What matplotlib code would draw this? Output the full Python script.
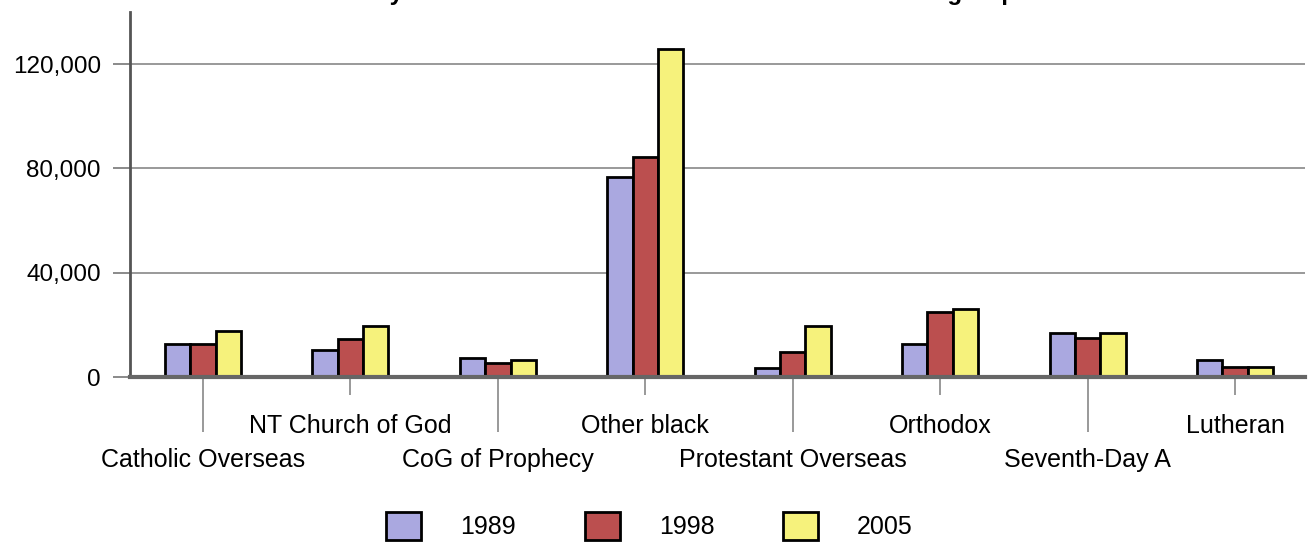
import matplotlib
matplotlib.use("Agg")
import matplotlib.pyplot as plt
from matplotlib.patches import Patch
from matplotlib.ticker import FuncFormatter
import numpy as np

# data
groups = ["Catholic Overseas", "NT Church of God", "CoG of Prophecy", "Other black",
          "Protestant Overseas", "Orthodox", "Seventh-Day A", "Lutheran"]
years = ["1989", "1998", "2005"]
v1989 = [12700, 10400, 7400, 76800, 3300, 12500, 16800, 6500]
v1998 = [12500, 14600, 5500, 84500, 9500, 25000, 14800, 4000]
v2005 = [17600, 19700, 6500, 125700, 19600, 26000, 16800, 4000]
yticks = [0, 40000, 80000, 120000]

colors = ["#aaa8e0", "#bb4f4f", "#f6f27c"]
fs = 18

plt.rcParams['font.family'] = ['Liberation Sans', 'DejaVu Sans']

fig = plt.figure(figsize=(13.11, 5.46), dpi=100)
ax = fig.add_axes([130 / 1311, 1 - 377 / 546, 1175 / 1311, 365 / 546])

x = np.arange(len(groups))
w = 0.172
for k, vals in enumerate([v1989, v1998, v2005]):
    ax.bar(x + (k - 1) * w, vals, width=w, color=colors[k], edgecolor="black",
           linewidth=2, zorder=3)

ax.set_xlim(-0.495, 7.475)
ax.set_ylim(0, 140000)

# gridlines
ax.set_yticks(yticks)
ax.yaxis.set_major_formatter(FuncFormatter(lambda v, p: f"{int(v):,}"))
ax.grid(axis="y", color="#999999", linewidth=1.4, zorder=0)
ax.tick_params(axis="y", length=12, width=1.2, color="#777777", pad=9, labelsize=17.5)

# category labels in two rows: even ones low (long tick), odd ones high (short tick)
ax.set_xticks(x[::2], [groups[i] for i in x[::2]])
ax.set_xticks(x[1::2], [groups[i] for i in x[1::2]], minor=True)
ax.tick_params(axis="x", which="major", length=39.6, width=1.2, color="#888888",
               pad=11.5, labelsize=fs)
ax.tick_params(axis="x", which="minor", length=13, width=1.2, color="#888888",
               pad=13.5, labelsize=fs)

for s in ["top", "right"]:
    ax.spines[s].set_visible(False)
ax.spines["left"].set_color("#555555")
ax.spines["left"].set_linewidth(2)
ax.spines["bottom"].set_color("#666666")
ax.spines["bottom"].set_linewidth(3)
ax.spines["bottom"].set_zorder(4)

# title, cut off at the top like the reference
fig.text(0.51, 1.0, "Survey of Christian Denominations and Other Church group",
         ha="center", va="baseline", fontsize=17.5, fontweight="bold")

handles = [Patch(facecolor=c, edgecolor="black", linewidth=2) for c in colors]
fig.legend(handles, years, loc="center", bbox_to_anchor=(0.4955, 1 - 526 / 546),
           ncol=3, frameon=False, fontsize=fs, handlelength=1.4, handleheight=1.32,
           handletextpad=1.56, columnspacing=2.75)

fig.savefig("out.png", dpi=100)
